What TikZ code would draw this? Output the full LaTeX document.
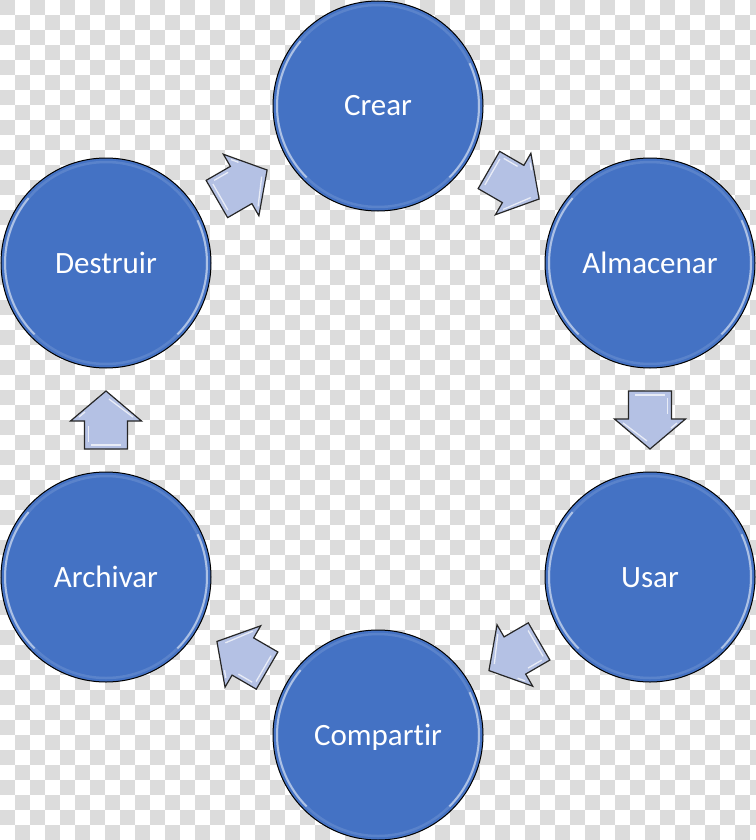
\documentclass[tikz,border=0pt]{standalone}
\usepackage{fontspec}
\setmainfont{Carlito}[Ligatures=NoCommon]
\usetikzlibrary{calc}
\definecolor{circfill}{HTML}{4472C4}
\definecolor{arrfill}{HTML}{B4C1E4}
\definecolor{checkgray}{HTML}{DCDCDC}
\tikzset{
  stage/.style={circle, minimum size=210pt, inner sep=0pt, fill=circfill, draw=black, line width=1pt,
    text=white, font=\fontsize{31}{31}\selectfont, text height=20pt, text depth=0pt},
  blkshape/.style={draw=black!85, fill=arrfill, line width=1.2pt, line join=miter},
  blkshine/.style={draw=white, opacity=0.7, line width=1.3pt, line join=round},
  bevel/.style={draw=white, line width=2pt, opacity=0.5},
  bevelsoft/.style={draw=white, line width=2.5pt, opacity=0.12}
}
\newcommand\blkarrow[2]{%
  \pgfmathanglebetweenpoints{\pgfpointanchor{#1}{center}}{\pgfpointanchor{#2}{center}}%
  \let\blkang\pgfmathresult
  \begin{scope}[shift={($(#1.center)!0.5!(#2.center)$)}, rotate=\blkang]
    \path[blkshape] (-29,-21.5) -- (-1,-21.5) -- (-1,-35.5) -- (29,0) -- (-1,35.5) -- (-1,21.5) -- (-29,21.5) -- cycle;
    \path[blkshine] (-25,-15) -- (-25,15);
    \path[blkshine] (-22,-17.5) -- (-6,-17.5);
    \path[blkshine] (3,27) -- (21,3);
    \path[blkshine] (3,-27) -- (8,-21);
  \end{scope}}
\newcommand\bevelcirc[1]{%
  \path[bevelsoft] (#1.center) circle[radius=101pt];
  \path[bevel] ($(#1.center)+(140:101pt)$) arc[start angle=140, end angle=225, radius=101pt];
  \path[bevel] ($(#1.center)+(-45:101pt)$) arc[start angle=-45, end angle=25, radius=101pt];
}
\begin{document}
\begin{tikzpicture}[x=1pt, y=-1pt]
  \useasboundingbox (0,0) rectangle (755,840);
  \fill[white] (0,0) rectangle (755,840);
  \foreach \j in {0,...,55}{
    \pgfmathtruncatemacro\off{mod(\j,2)*15}
    \foreach \i in {0,30,...,750}{
      \fill[checkgray] (\i+\off,\j*15) rectangle ++(15,15);
    }
  }
  \node[stage] (crear) at (378,106) {Crear};
  \node[stage] (almacenar) at (650,263) {Almacenar};
  \node[stage] (usar) at (650,577) {Usar};
  \node[stage] (compartir) at (378,735) {Compartir};
  \node[stage] (archivar) at (106,577) {Archivar};
  \node[stage] (destruir) at (106,263) {Destruir};
  \bevelcirc{crear}
  \bevelcirc{almacenar}
  \bevelcirc{usar}
  \bevelcirc{compartir}
  \bevelcirc{archivar}
  \bevelcirc{destruir}
  \blkarrow{crear}{almacenar}
  \blkarrow{almacenar}{usar}
  \blkarrow{usar}{compartir}
  \blkarrow{compartir}{archivar}
  \blkarrow{archivar}{destruir}
  \blkarrow{destruir}{crear}
\end{tikzpicture}
\end{document}
